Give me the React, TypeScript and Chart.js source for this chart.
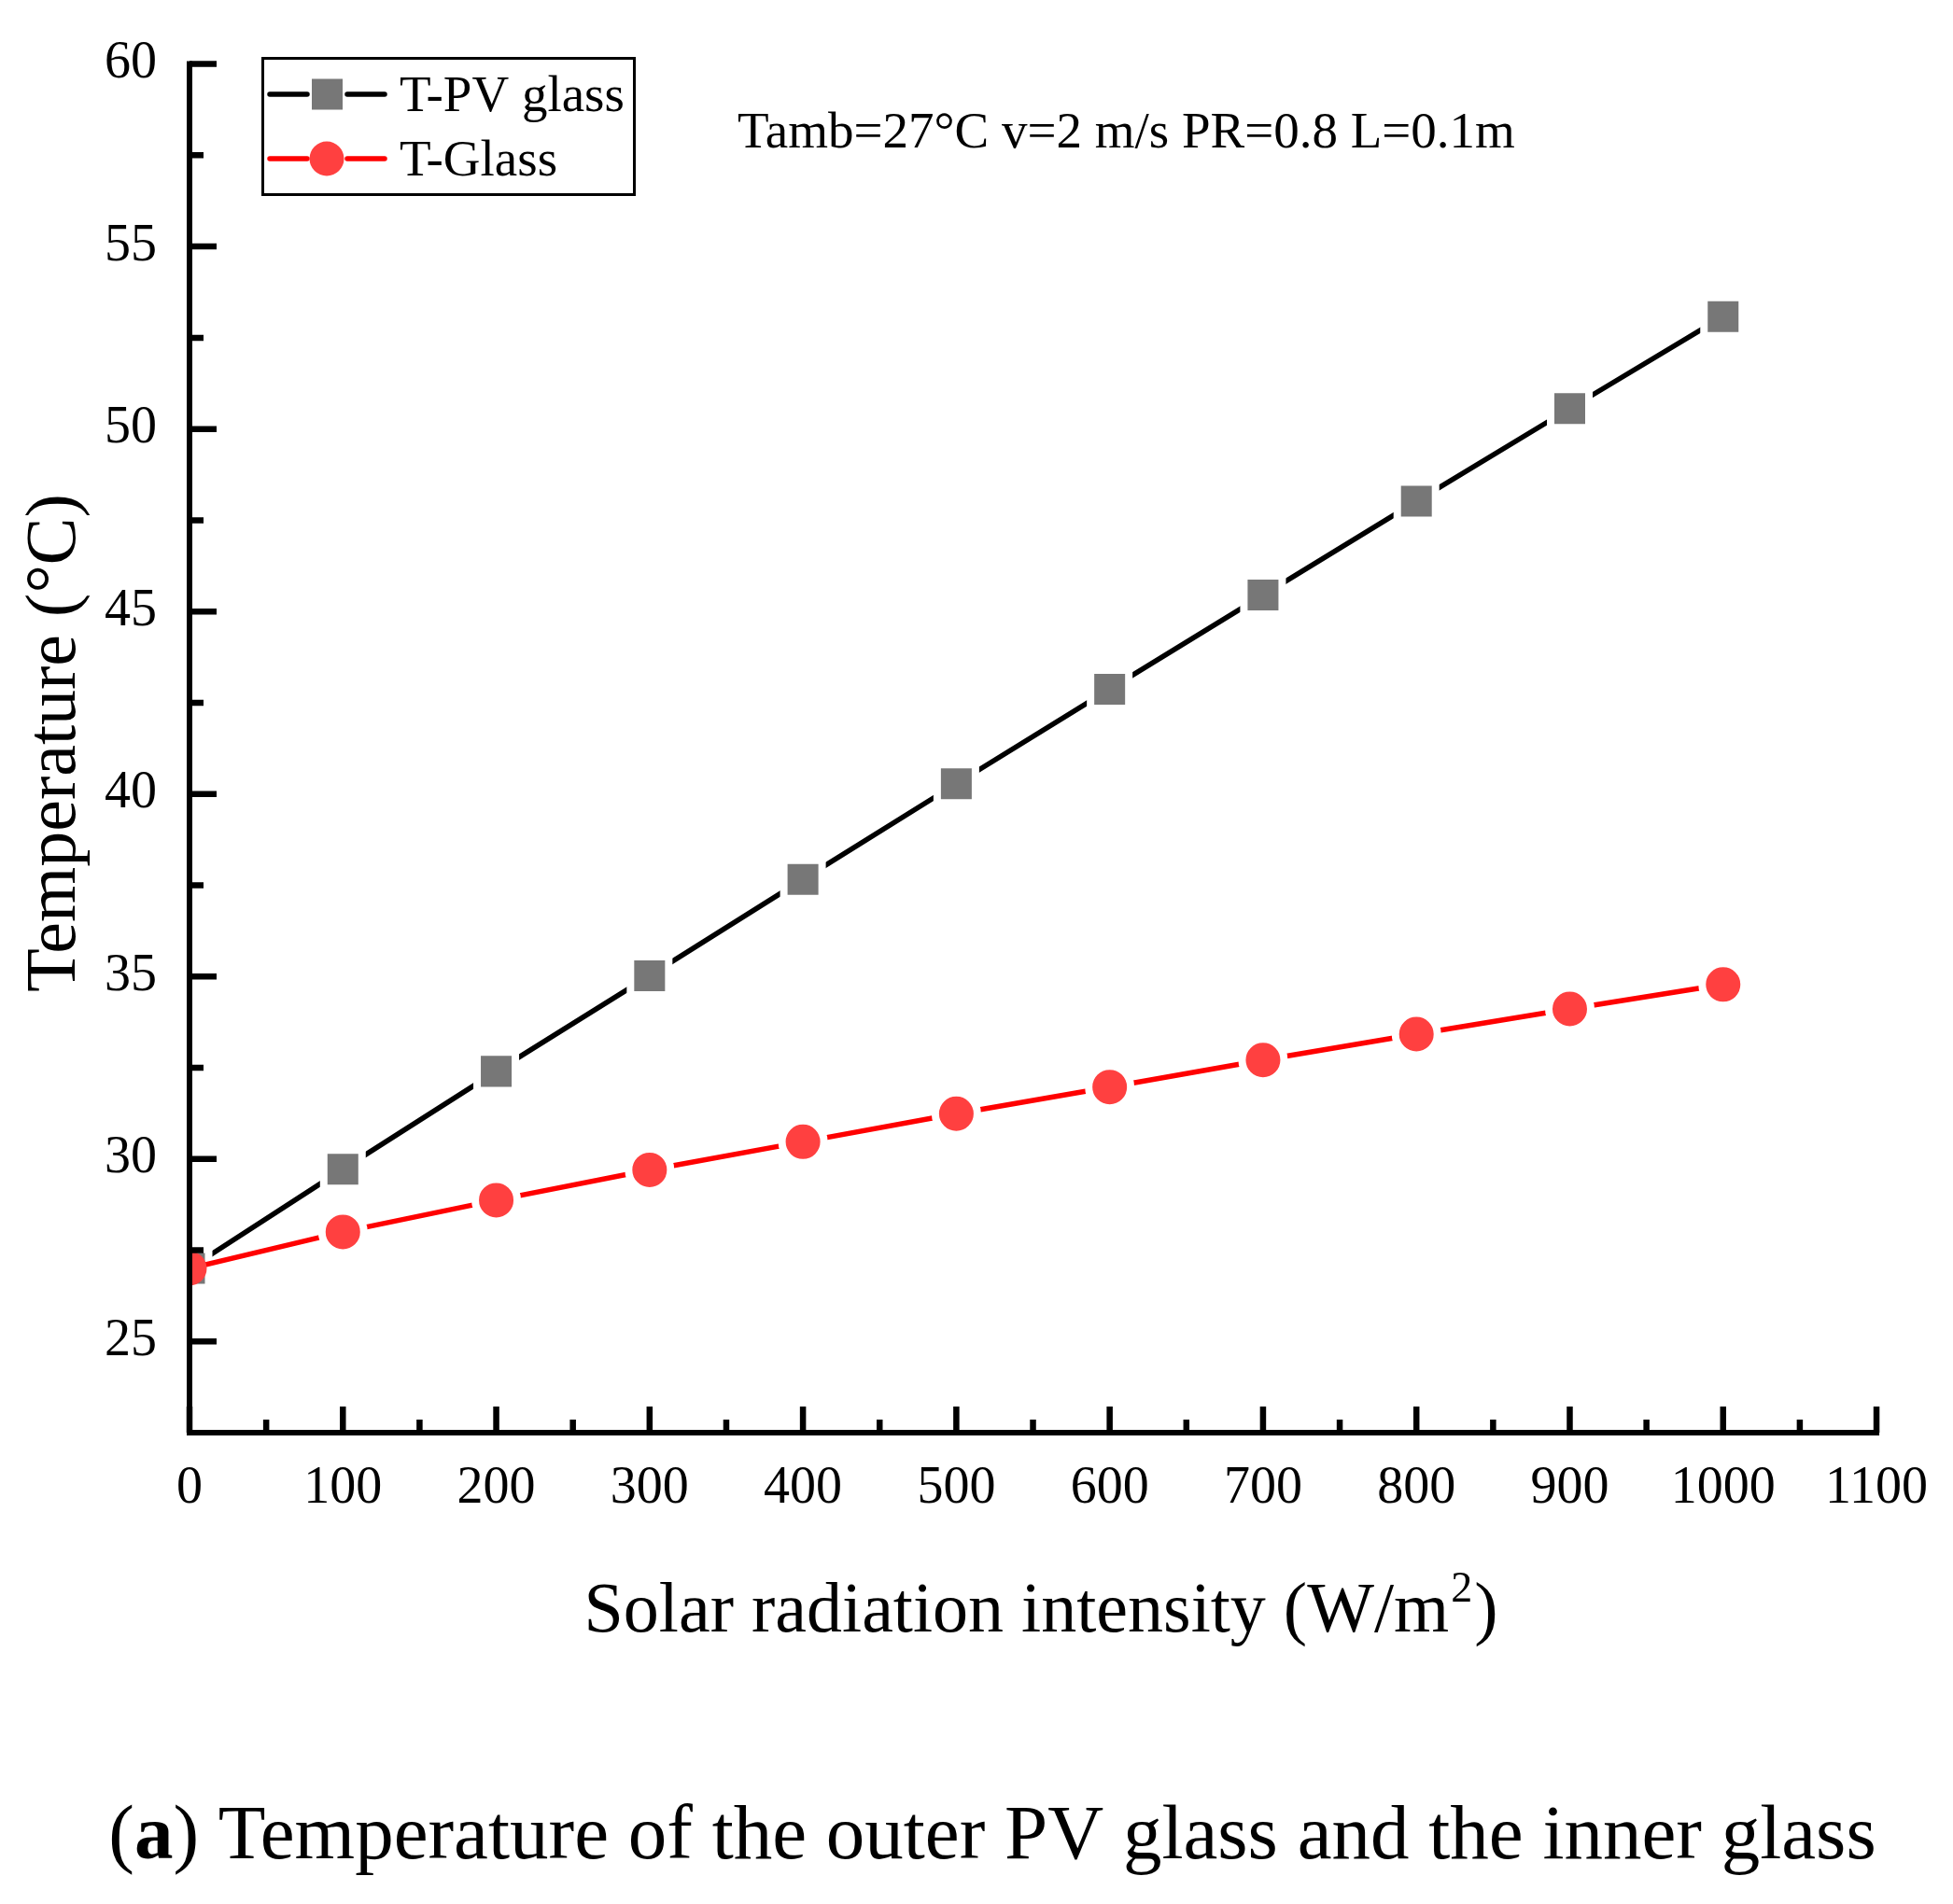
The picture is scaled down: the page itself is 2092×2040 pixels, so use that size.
import { useEffect, useRef } from 'react'
import { Chart, registerables } from 'chart.js'

Chart.register(...registerables)

// solar radiation intensity (W/m2)
const radiation = [0, 100, 200, 300, 400, 500, 600, 700, 800, 900, 1000]
// temperatures (°C)
const tPvGlass = [27.0, 29.72, 32.4, 35.02, 37.66, 40.28, 42.87, 45.45, 48.02, 50.56, 53.08]
const tGlass = [27.0, 28.0, 28.87, 29.7, 30.47, 31.24, 31.97, 32.71, 33.42, 34.11, 34.78]

const xTicks = [0, 100, 200, 300, 400, 500, 600, 700, 800, 900, 1000, 1100]
const yTicks = [25, 30, 35, 40, 45, 50, 55, 60]

const seriesNames = ['T-PV glass', 'T-Glass']
const note = 'Tamb=27°C v=2 m/s PR=0.8 L=0.1m'

const W = 2092
const H = 2040
const FONT = '"Liberation Serif", "Times New Roman", serif'

const midpoints = (arr: number[]) => arr.slice(0, -1).map((v, i) => (v + arr[i + 1]) / 2)

const decorations = {
  id: 'decorations',
  afterDatasetsDraw(chart: Chart) {
    const { ctx, chartArea: a } = chart
    const x = chart.scales.x
    const y = chart.scales.y
    ctx.save()
    ctx.strokeStyle = '#000'
    ctx.lineCap = 'butt'

    // axis lines
    ctx.lineWidth = 6
    ctx.beginPath()
    ctx.moveTo(a.left, a.top - 3)
    ctx.lineTo(a.left, a.bottom + 3)
    ctx.moveTo(a.left - 3, a.bottom)
    ctx.lineTo(a.right + 3, a.bottom)
    ctx.stroke()

    // inward ticks
    ctx.lineWidth = 6.5
    ctx.beginPath()
    xTicks.forEach((v) => {
      const px = x.getPixelForValue(v)
      ctx.moveTo(px, a.bottom)
      ctx.lineTo(px, a.bottom - 28)
    })
    midpoints(xTicks).forEach((v) => {
      const px = x.getPixelForValue(v)
      ctx.moveTo(px, a.bottom)
      ctx.lineTo(px, a.bottom - 14)
    })
    yTicks.forEach((v) => {
      const py = y.getPixelForValue(v)
      ctx.moveTo(a.left, py)
      ctx.lineTo(a.left + 29, py)
    })
    midpoints(yTicks).forEach((v) => {
      const py = y.getPixelForValue(v)
      ctx.moveTo(a.left, py)
      ctx.lineTo(a.left + 15, py)
    })
    ctx.stroke()
    ctx.restore()
  },
  afterDraw(chart: Chart) {
    const { ctx } = chart
    ctx.save()
    ctx.fillStyle = '#000'
    ctx.textBaseline = 'alphabetic'

    // legend box
    ctx.strokeStyle = '#000'
    ctx.lineWidth = 3
    ctx.strokeRect(281.5, 62.5, 398, 146)
    const rows = [
      { y: 101, line: '#000', fill: '#777777', square: true, base: 119 },
      { y: 170, line: '#ff0000', fill: '#ff4040', square: false, base: 188 },
    ]
    rows.forEach((r, i) => {
      ctx.strokeStyle = r.line
      ctx.lineWidth = 5.5
      ctx.lineCap = 'round'
      ctx.beginPath()
      ctx.moveTo(289, r.y)
      ctx.lineTo(329, r.y)
      ctx.moveTo(372, r.y)
      ctx.lineTo(412, r.y)
      ctx.stroke()
      ctx.fillStyle = r.fill
      if (r.square) {
        ctx.fillRect(334, r.y - 16.5, 33, 33)
      } else {
        ctx.beginPath()
        ctx.arc(350, r.y, 18.5, 0, Math.PI * 2)
        ctx.fill()
      }
      ctx.fillStyle = '#000'
      ctx.font = `55px ${FONT}`
      ctx.textAlign = 'left'
      ctx.fillText(seriesNames[i], 428, r.base)
    })

    // condition note
    ctx.font = `55px ${FONT}`
    ctx.textAlign = 'left'
    ctx.fillText(note, 790, 158)

    // y title
    ctx.save()
    ctx.translate(80, 796)
    ctx.rotate(-Math.PI / 2)
    ctx.font = `76px ${FONT}`
    ctx.textAlign = 'center'
    ctx.fillText('Temperature (°C)', 0, 0)
    ctx.restore()

    // x title with superscript
    ctx.textAlign = 'left'
    const main = 'Solar radiation intensity (W/m'
    const big = `76px ${FONT}`
    const small = `46px ${FONT}`
    ctx.font = big
    const w1 = ctx.measureText(main).width
    const w3 = ctx.measureText(')').width
    ctx.font = small
    const w2 = ctx.measureText('2').width
    let sx = 1113 - (w1 + w2 + w3) / 2
    const base = 1748
    ctx.font = big
    ctx.fillText(main, sx, base)
    sx += w1
    ctx.font = small
    ctx.fillText('2', sx + 2, base - 32)
    sx += w2 + 4
    ctx.font = big
    ctx.fillText(')', sx, base)

    // caption
    const capFont = `83px ${FONT}`
    const capBold = `bold 83px ${FONT}`
    const p1 = '('
    const p2 = 'a'
    const p3 = ') Temperature of the outer PV glass and the inner glass'
    ctx.font = capFont
    const c1 = ctx.measureText(p1).width
    const c3 = ctx.measureText(p3).width
    ctx.font = capBold
    const c2 = ctx.measureText(p2).width
    let cx = 1063 - (c1 + c2 + c3) / 2
    const cb = 1991
    ctx.font = capFont
    ctx.fillText(p1, cx, cb)
    cx += c1
    ctx.font = capBold
    ctx.fillText(p2, cx, cb)
    cx += c2
    ctx.font = capFont
    ctx.fillText(p3, cx, cb)

    ctx.restore()
  },
}

export default function App() {
  const canvasRef = useRef<HTMLCanvasElement>(null)
  const chartRef = useRef<Chart | null>(null)

  useEffect(() => {
    document.body.style.margin = '0'
    if (!canvasRef.current) return
    const ctx = canvasRef.current.getContext('2d')
    if (!ctx) return

    chartRef.current = new Chart(ctx, {
      type: 'line',
      data: {
        datasets: [
          {
            label: seriesNames[0],
            data: radiation.map((r, i) => ({ x: r, y: tPvGlass[i] })),
            borderColor: '#000000',
            borderWidth: 5.5,
            borderCapStyle: 'round',
            pointStyle: 'rect',
            pointRadius: 29,
            pointBorderWidth: 8,
            pointBorderColor: '#ffffff',
            pointBackgroundColor: '#777777',
            order: 1,
          },
          {
            label: seriesNames[1],
            data: radiation.map((r, i) => ({ x: r, y: tGlass[i] })),
            borderColor: '#ff0000',
            borderWidth: 5.5,
            borderCapStyle: 'round',
            pointStyle: 'circle',
            pointRadius: (c: any) => (c.dataIndex === 0 ? 18.5 : 22.5),
            pointBorderWidth: (c: any) => (c.dataIndex === 0 ? 0 : 8),
            pointBorderColor: '#ffffff',
            pointBackgroundColor: '#ff4040',
            order: 0,
          },
        ],
      },
      options: {
        responsive: false,
        devicePixelRatio: 1,
        animation: false,
        layout: { padding: { left: 0, right: 74, top: 64, bottom: 0 } },
        scales: {
          x: {
            type: 'linear',
            min: 0,
            max: 1100,
            grid: { display: false, drawTicks: false },
            border: { display: false },
            ticks: {
              color: '#000',
              padding: 27,
              maxRotation: 0,
              autoSkip: false,
              font: { family: FONT, size: 56 },
              callback: (v: any) => String(v),
            },
            afterBuildTicks: (s: any) => {
              s.ticks = xTicks.map((v) => ({ value: v }))
            },
            afterFit: (s: any) => {
              s.height = H - 1535
            },
          },
          y: {
            type: 'linear',
            min: 22.5,
            max: 60,
            grid: { display: false, drawTicks: false },
            border: { display: false },
            ticks: {
              color: '#000',
              padding: 35,
              font: { family: FONT, size: 56 },
              callback: (v: any) => String(v),
            },
            afterBuildTicks: (s: any) => {
              s.ticks = yTicks.map((v) => ({ value: v }))
            },
            afterFit: (s: any) => {
              s.width = 203
            },
          },
        },
        plugins: {
          legend: { display: false },
          tooltip: { enabled: false },
        },
      },
      plugins: [decorations],
    })

    return () => {
      if (chartRef.current) chartRef.current.destroy()
    }
  }, [])

  return (
    <div style={{ width: W, height: H, background: '#fff' }}>
      <canvas ref={canvasRef} width={W} height={H} style={{ display: 'block', width: W, height: H }}></canvas>
    </div>
  )
}
